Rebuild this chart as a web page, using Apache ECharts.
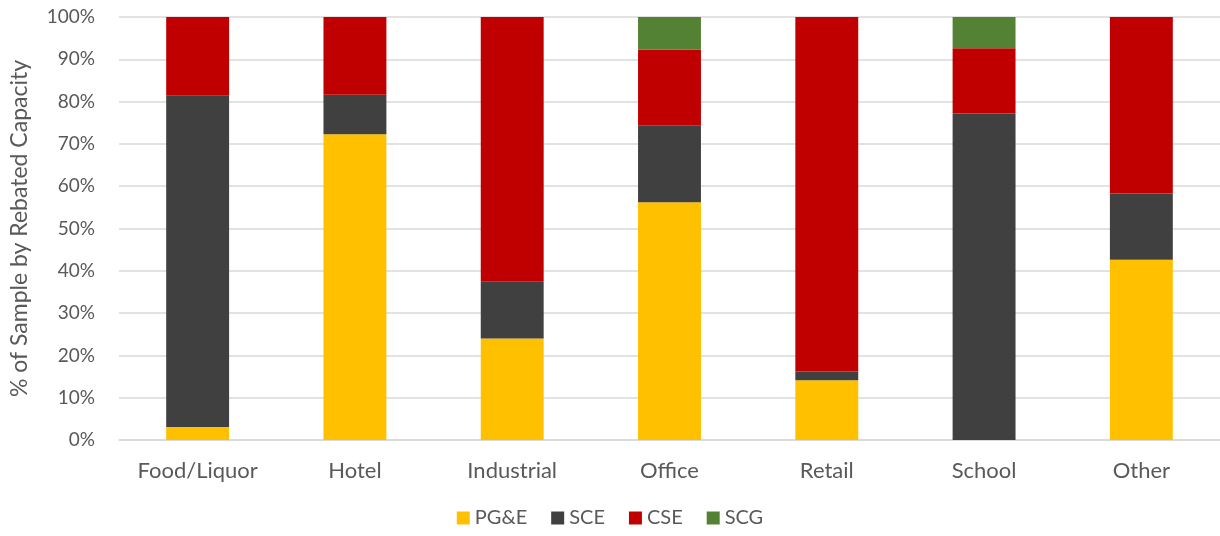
<!DOCTYPE html>
<html>
<head>
<meta charset="utf-8">
<script src="https://cdn.jsdelivr.net/npm/echarts@6/dist/echarts.min.js"></script>
<style>
html,body{margin:0;padding:0;background:#fff;}
#chart{width:1220px;height:536px;}
</style>
</head>
<body>
<div id="chart"></div>
<script>
const categories = ['Food/Liquor', 'Hotel', 'Industrial', 'Office', 'Retail', 'School', 'Other'];
const pge = [3.1, 72.3, 24.0, 56.2, 14.1, 0, 42.6];
const sce = [78.3, 9.3, 13.4, 18.2, 2.1, 77.2, 15.7];
const cse = [18.6, 18.4, 62.6, 17.9, 83.8, 15.4, 41.7];
const scg = [0, 0, 0, 7.7, 0, 7.4, 0];
const yTicks = [0, 10, 20, 30, 40, 50, 60, 70, 80, 90, 100];

const font = 'Lato, "Open Sans", sans-serif';
const txt = '#595959';

function mk(name, data, color) {
  return {
    name: name, type: 'bar', stack: 'total', data: data, barWidth: '40%',
    itemStyle: { color: color }, emphasis: { disabled: true }
  };
}

const chart = echarts.init(document.getElementById('chart'));
chart.setOption({
  animation: false,
  textStyle: { fontFamily: font },
  grid: { left: 117, right: 0, top: 17, bottom: 96, containLabel: false },
  legend: {
    bottom: 3, left: 'center', itemWidth: 13, itemHeight: 13, itemGap: 24,
    icon: 'rect',
    textStyle: { color: txt, fontSize: 20, fontFamily: font },
    data: ['PG&E', 'SCE', 'CSE', 'SCG']
  },
  xAxis: {
    type: 'category', data: categories,
    axisLine: { lineStyle: { color: '#d9d9d9', width: 1.5 } },
    axisTick: { show: false },
    axisLabel: { color: txt, fontSize: 22, margin: 20, fontFamily: font }
  },
  yAxis: {
    type: 'value', min: yTicks[0], max: yTicks[yTicks.length - 1], interval: 10,
    name: '% of Sample by Rebated Capacity', nameLocation: 'middle', nameGap: 88,
    nameTextStyle: { color: txt, fontSize: 23, fontFamily: font },
    axisLine: { show: false }, axisTick: { show: false },
    splitLine: { lineStyle: { color: '#d9d9d9', width: 1.5 } },
    axisLabel: { color: txt, fontSize: 19, margin: 24, fontFamily: font, formatter: '{value}%' }
  },
  series: [
    mk('PG&E', pge, '#ffc000'),
    mk('SCE', sce, '#404040'),
    mk('CSE', cse, '#c00000'),
    mk('SCG', scg, '#548235')
  ]
});
</script>
</body>
</html>
